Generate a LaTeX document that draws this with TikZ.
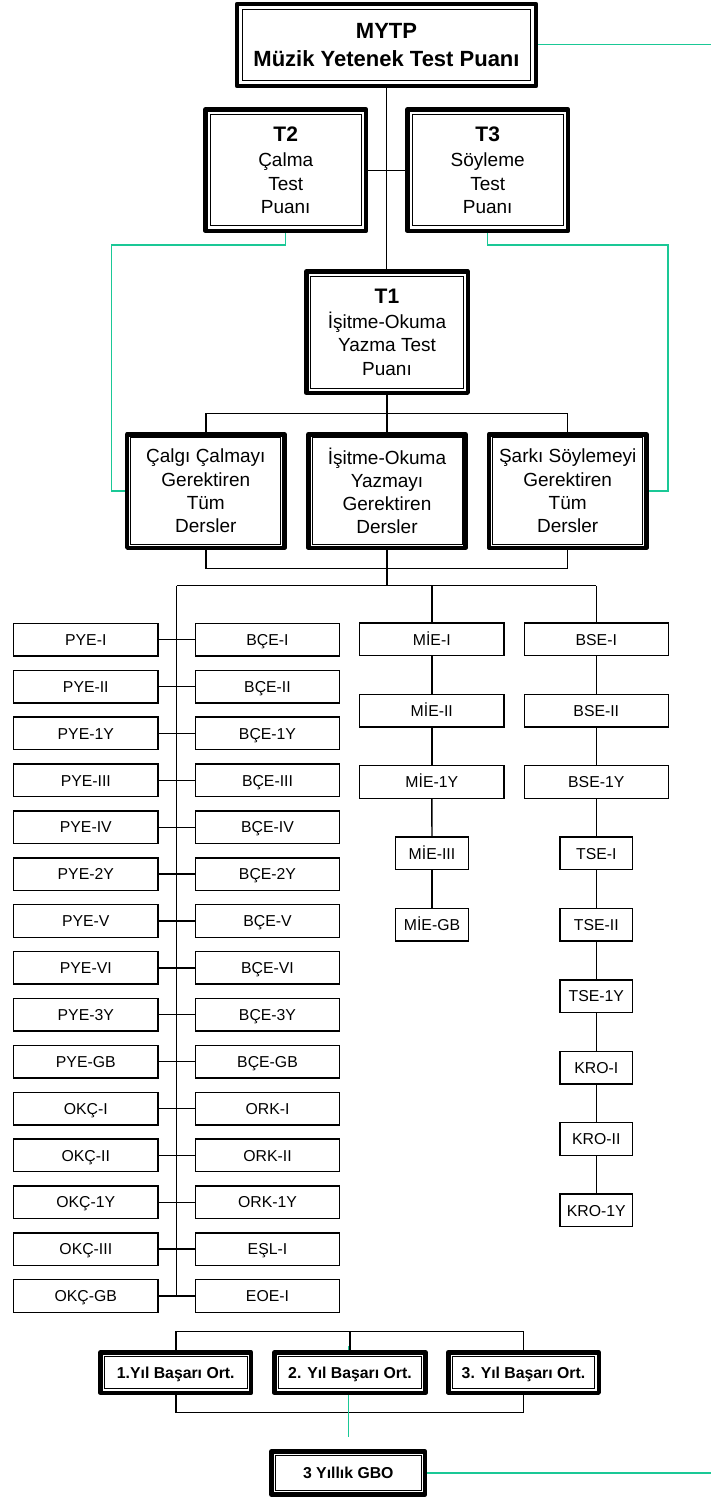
\documentclass[tikz,border=0pt]{standalone}
\usepackage{fontspec}
\setmainfont{Liberation Sans}
\usetikzlibrary{backgrounds}
\definecolor{gcol}{RGB}{26,200,150}
\tikzset{
  every node/.style={inner sep=0pt, outer sep=0pt},
  dnode/.style={fill=white, align=center},
  midfont/.style={font=\fontsize{19}{23.2}\selectfont},
  cbox/.style={draw, line width=1.4pt, fill=white, minimum height=32.6pt, text height=11.4pt, text depth=0pt, font=\fontsize{15.8}{18}\selectfont},
  wbox/.style={cbox, minimum width=144.1pt},
  nbox/.style={cbox, minimum width=72.6pt},
  ybox/.style={dnode, minimum height=40.5pt, minimum width=150.5pt, text height=11.4pt, text depth=0pt, font=\bfseries\fontsize{15.8}{18}\selectfont},
  link/.style={line width=1.4pt, black},
  gline/.style={line width=1.4pt, gcol},
}
\newcommand\dframe[2]{%
  \draw[line width=4.5pt, line join=round] (#1.north west) rectangle (#1.south east);
  \draw[line width=1pt] ([xshift=#2,yshift=-#2]#1.north west) rectangle ([xshift=-#2,yshift=#2]#1.south east);}
\begin{document}
\begin{tikzpicture}[x=1pt,y=-1pt]
\useasboundingbox (0,0) rectangle (711,1497);
% top boxes
\node[dnode, minimum width=299pt, minimum height=82pt, font=\bfseries\fontsize{22}{28.3}\selectfont] (mytp) at (386.5,45) {MYTP\\Müzik Yetenek Test Puanı};
\node[dnode, midfont, minimum width=160.8pt, minimum height=121.2pt] (t2) at (285.7,170.2) {{\bfseries\fontsize{21}{23}\selectfont T2}\\[2pt]Çalma\\Test\\Puanı};
\node[dnode, midfont, minimum width=160.8pt, minimum height=121.2pt] (t3) at (487.7,170.2) {{\bfseries\fontsize{21}{23}\selectfont T3}\\[2pt]Söyleme\\Test\\Puanı};
\node[dnode, midfont, minimum width=161.5pt, minimum height=121.2pt] (t1) at (387,332.2) {{\bfseries\fontsize{21}{23}\selectfont T1}\\[2pt]İşitme-Okuma\\Yazma Test\\Puanı};
\node[dnode, midfont, minimum width=157.2pt, minimum height=113.5pt] (c1) at (205.8,491) {Çalgı Çalmayı\\Gerektiren\\Tüm\\Dersler};
\node[dnode, midfont, minimum width=157.2pt, minimum height=113.5pt] (c2) at (387,491) {İşitme-Okuma\\Yazmayı\\Gerektiren\\Dersler};
\node[dnode, midfont, minimum width=157.2pt, minimum height=113.5pt] (c3) at (567.7,491) {Şarkı Söylemeyi\\Gerektiren\\Tüm\\Dersler};
% grid
\foreach \l/\r [count=\i from 0] in {PYE-I/BÇE-I,PYE-II/BÇE-II,PYE-1Y/BÇE-1Y,PYE-III/BÇE-III,PYE-IV/BÇE-IV,PYE-2Y/BÇE-2Y,PYE-V/BÇE-V,PYE-VI/BÇE-VI,PYE-3Y/BÇE-3Y,PYE-GB/BÇE-GB,OKÇ-I/ORK-I,OKÇ-II/ORK-II,OKÇ-1Y/ORK-1Y,OKÇ-III/EŞL-I,OKÇ-GB/EOE-I}{
  \node[wbox] (p\i) at (85.8,639.7+46.88*\i) {\l};
  \node[wbox] (q\i) at (267.5,639.7+46.88*\i) {\r};
}
% MIE column
\node[wbox] (m0) at (431.8,639.3) {MİE-I};
\node[wbox] (m1) at (431.8,639.3+71.375) {MİE-II};
\node[wbox] (m2) at (431.8,639.3+2*71.375) {MİE-1Y};
\node[nbox] (m3) at (432,639.3+3*71.375) {MİE-III};
\node[nbox] (m4) at (432,639.3+4*71.375) {MİE-GB};
% BSE column
\node[wbox] (s0) at (596.3,639.3) {BSE-I};
\node[wbox] (s1) at (596.3,639.3+71.375) {BSE-II};
\node[wbox] (s2) at (596.3,639.3+2*71.375) {BSE-1Y};
\foreach \t [count=\j from 3] in {TSE-I,TSE-II,TSE-1Y,KRO-I,KRO-II,KRO-1Y}{
  \node[nbox] (s\j) at (596.3,639.3+\j*71.375) {\t};
}
% bottom boxes
\node[ybox] (y1) at (175.8,1372.5) {1.Yıl Başarı Ort.};
\node[ybox, minimum width=150.9pt] (y2) at (350,1372.5) {2. Yıl Başarı Ort.};
\node[ybox] (y3) at (523.5,1372.5) {3. Yıl Başarı Ort.};
\node[ybox, minimum width=153.5pt, minimum height=42.9pt] (gbo) at (348.3,1473) {3 Yıllık GBO};
% frames
\dframe{mytp}{5.5pt}
\dframe{t2}{5pt}
\dframe{t3}{5pt}
\dframe{t1}{4.5pt}
\dframe{c1}{3.6pt}
\dframe{c2}{3.6pt}
\dframe{c3}{3.6pt}
\dframe{y1}{3.8pt}
\dframe{y2}{3.8pt}
\dframe{y3}{3.8pt}
\dframe{gbo}{4pt}
% connectors
\begin{scope}[on background layer]
\coordinate (ba) at (0,413.3);
\coordinate (bb) at (0,568.3);
\coordinate (bus) at (176.7,585.7);
\coordinate (gl) at (111.7,245);
\coordinate (gr) at (668,245);
\coordinate (ge1) at (711,44.3);
\coordinate (ge2) at (711,1473);
\coordinate (gt) at (348.3,1346);
\coordinate (gb) at (348.3,1436.7);
\coordinate (bt) at (0,1331.7);
\coordinate (bd) at (0,1412.7);
\draw[link] (mytp.south) -- (mytp.south |- t1.north);
\draw[link] (t2.east) -- (t3.west);
\draw[link] (t1.south) -- (c2.north);
\draw[link] (c1.north) -- (c1.north |- ba) -- (c3.north |- ba) -- (c3.north);
\draw[link] (c1.south) -- (c1.south |- bb) -- (c3.south |- bb) -- (c3.south);
\draw[link] (c2.south) -- (c2.south |- bus);
\draw[link] (bus) -- (bus -| s0.north);
\draw[link] (bus -| m0.north) -- (m0.north);
\draw[link] (bus -| s0.north) -- (s0.north);
\draw[link] (bus) -- (bus |- p14);
\foreach \i in {0,...,14}{\draw[link] (p\i.east) -- (q\i.west);}
\foreach \a/\b in {0/1,1/2,2/3,3/4}{\draw[link] (m\a.south) -- (m\b.north);}
\foreach \a/\b in {0/1,1/2,2/3,3/4,4/5,5/6,6/7,7/8}{\draw[link] (s\a.south) -- (s\b.north);}
\draw[link] (y1.north) -- (y1.north |- bt) -- (y3.north |- bt) -- (y3.north);
\draw[link] (y2.north) -- (y2.north |- bt);
\draw[link] (y1.south) -- (y1.south |- bd) -- (y3.south |- bd) -- (y3.south);
\draw[gline] (t2.south) |- (gl) |- (c1.west);
\draw[gline] (t3.south) |- (gr) |- (c3.east);
\draw[gline] (mytp.east |- ge1) -- (ge1);
\draw[gline] (gbo.east) -- (ge2);
\draw[gline] (gt) -- (gb);
\end{scope}
\end{tikzpicture}
\end{document}
